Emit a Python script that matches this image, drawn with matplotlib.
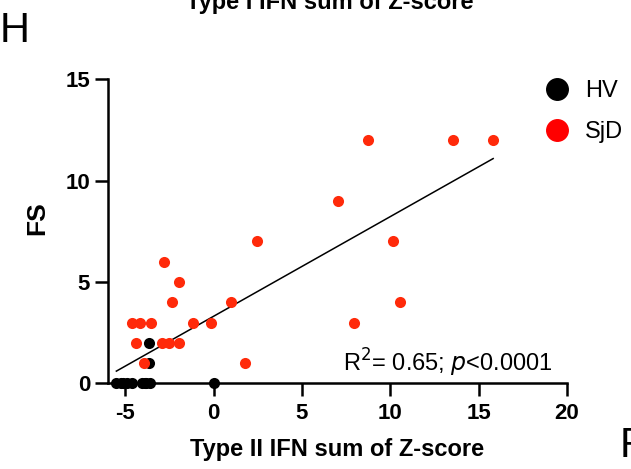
import numpy as np
import matplotlib
matplotlib.use('Agg')
import matplotlib.pyplot as plt
from matplotlib.lines import Line2D

plt.rcParams['font.family'] = ['Liberation Sans', 'DejaVu Sans']
plt.rcParams['axes.unicode_minus'] = False

# HV (healthy volunteers)
hv_x = [-5.5, -5.25, -5.1, -4.9, -4.6, -4.05, -3.9, -3.8, -3.62, 0.0, -3.67, -3.67]
hv_y = [0, 0, 0, 0, 0, 0, 0, 0, 0, 0, 2, 1]

# SjD patients
sjd_x = [-4.61, -4.18, -3.54, -4.37, -3.95, -2.82, -1.98, -2.33, -2.92, -2.54,
         -1.94, -1.19, -0.13, 0.98, 1.79, 2.45, 8.76, 13.53, 15.82, 7.03,
         10.13, 10.57, 7.95]
sjd_y = [3, 3, 3, 2, 1, 6, 5, 4, 2, 2,
         2, 3, 3, 4, 1, 7, 12, 12, 12, 9,
         7, 4, 3]

xticks = [-5, 0, 5, 10, 15, 20]
yticks = [0, 5, 10, 15]

fig = plt.figure(figsize=(6.31, 4.69), dpi=100)
ax = fig.add_axes([0.1704, 0.1827, 0.7282, 0.6482])

# linear fit over all subjects
all_x = np.array(hv_x + sjd_x)
all_y = np.array(hv_y + sjd_y)
slope, icpt = np.polyfit(all_x, all_y, 1)
fx = np.array([all_x.min(), all_x.max()])
ax.plot(fx, slope * fx + icpt, color='black', lw=1.1, zorder=2)

ax.scatter(hv_x, hv_y, s=64, color='black', linewidths=0, zorder=3, clip_on=False)
ax.scatter(sjd_x, sjd_y, s=64, color='#FF2A0A', linewidths=0, zorder=4, clip_on=False)

ax.set_xlim(-6, 20)
ax.set_ylim(0, 15)
ax.set_xticks(xticks)
ax.set_yticks(yticks)
for s in ['top', 'right']:
    ax.spines[s].set_visible(False)
for s in ['left', 'bottom']:
    ax.spines[s].set_linewidth(1.8)
ax.tick_params(width=1.8, length=9.5, labelsize=16, pad=3)
ax.tick_params(axis='x', pad=5)
for lab in ax.get_xticklabels() + ax.get_yticklabels():
    lab.set_fontweight('bold')

ax.set_xlabel('Type II IFN sum of Z-score', fontsize=17, fontweight='bold', labelpad=10)
fig.text(37 / 631, 1 - 218 / 469, 'FS', rotation=90, fontsize=19, fontweight='bold',
         ha='center', va='center')

ax.text(553 / 631, 1 - 372 / 469, r'R$^2$= 0.65; $\it{p}$<0.0001', transform=fig.transFigure,
        fontsize=17, ha='right', va='baseline')

handles = [Line2D([], [], marker='o', ls='', color='black', markersize=15.5, label='HV'),
           Line2D([], [], marker='o', ls='', color='red', markersize=15.5, label='SjD')]
ax.legend(handles=handles, loc='upper left', bbox_to_anchor=(545 / 631, 1 - 80 / 469),
          bbox_transform=fig.transFigure, frameon=False, fontsize=17, handlelength=1.0,
          handletextpad=0.69, labelspacing=0.8, borderpad=0, borderaxespad=0)

fig.text(0.0, 1 - 42 / 469, 'H', fontsize=30, va='baseline')
fig.text(620 / 631, 1 - 457 / 469, 'P', fontsize=30, va='baseline')
fig.text(330 / 631, 1 - 9 / 469, 'Type I IFN sum of Z-score', fontsize=17,
         fontweight='bold', ha='center', va='baseline')

fig.savefig('out.png', dpi=100)
